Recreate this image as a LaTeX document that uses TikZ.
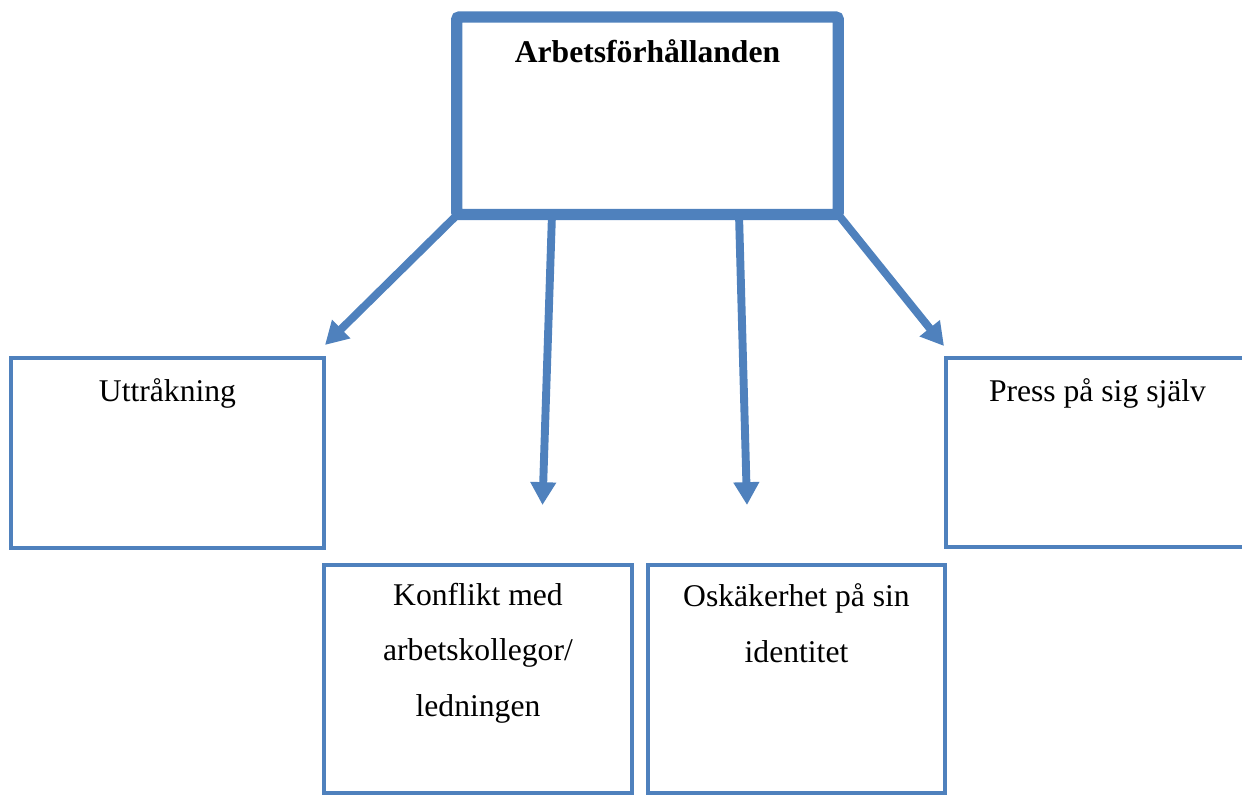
\documentclass[tikz,border=0pt]{standalone}
\usepackage{fontspec}
\setmainfont{Liberation Serif}
\usetikzlibrary{arrows.meta}
\definecolor{boxblue}{RGB}{79,129,189}
\tikzset{
  heavybox/.style={draw=boxblue, line width=6.5pt, rounded corners=1.5pt, inner sep=0pt},
  plainbox/.style={draw=boxblue, line width=2.3pt, inner sep=0pt},
  boxtext/.style={inner sep=0pt, align=center, font=\fontsize{18pt}{31.5pt}\selectfont},
  flow/.style={draw=boxblue, line width=4.5pt, -{Triangle[length=13pt,width=14pt]}}
}
\begin{document}
\begin{tikzpicture}[x=0.02cm, y=-0.02cm]
  \useasboundingbox (0,0) rectangle (1242,796);
  \begin{scope}
    \clip (0,0) rectangle (1242,796);
    % boxes (centre, size in px)
    \node[heavybox, minimum width=381.5*0.02cm, minimum height=197.5*0.02cm] (top) at (647.5,115.75) {};
    \node[plainbox, minimum width=313*0.02cm, minimum height=190*0.02cm] (bore) at (167.5,453) {};
    \node[plainbox, minimum width=303*0.02cm, minimum height=189*0.02cm] (press) at (1097.5,452.5) {};
    \node[plainbox, minimum width=308*0.02cm, minimum height=228*0.02cm] (konf) at (478,679) {};
    \node[plainbox, minimum width=297*0.02cm, minimum height=228*0.02cm] (osak) at (796.5,679) {};
  \end{scope}
  % texts (multi-line nodes are placed by the baseline of their last line)
  \node[boxtext, anchor=base, font=\fontsize{18pt}{31.5pt}\selectfont\bfseries] (ttop) at (647.5,62) {Arbetsförhållanden};
  \node[boxtext, anchor=base] (tbore) at (167.5,401) {Uttråkning};
  \node[boxtext, anchor=base] (tpress) at (1097.5,401) {Press på sig själv};
  \node[boxtext, anchor=base] (tkonf) at (478,716) {Konflikt med\\arbetskollegor/\\ledningen};
  \node[boxtext, anchor=base] (tosak) at (796.5,662) {Oskäkerhet på sin\\identitet};
  % arrow start and end points
  \coordinate (s1) at (459,213);
  \coordinate (s2) at (552,214);
  \coordinate (s3) at (739,214);
  \coordinate (s4) at (837,213);
  \coordinate (e1) at (325,345);
  \coordinate (e2) at (542.5,505);
  \coordinate (e3) at (747,505);
  \coordinate (e4) at (944,346);
  % connectors
  \draw[flow] (s1) -- (e1);
  \draw[flow] (s2) -- (e2);
  \draw[flow] (s3) -- (e3);
  \draw[flow] (s4) -- (e4);
\end{tikzpicture}
\end{document}
